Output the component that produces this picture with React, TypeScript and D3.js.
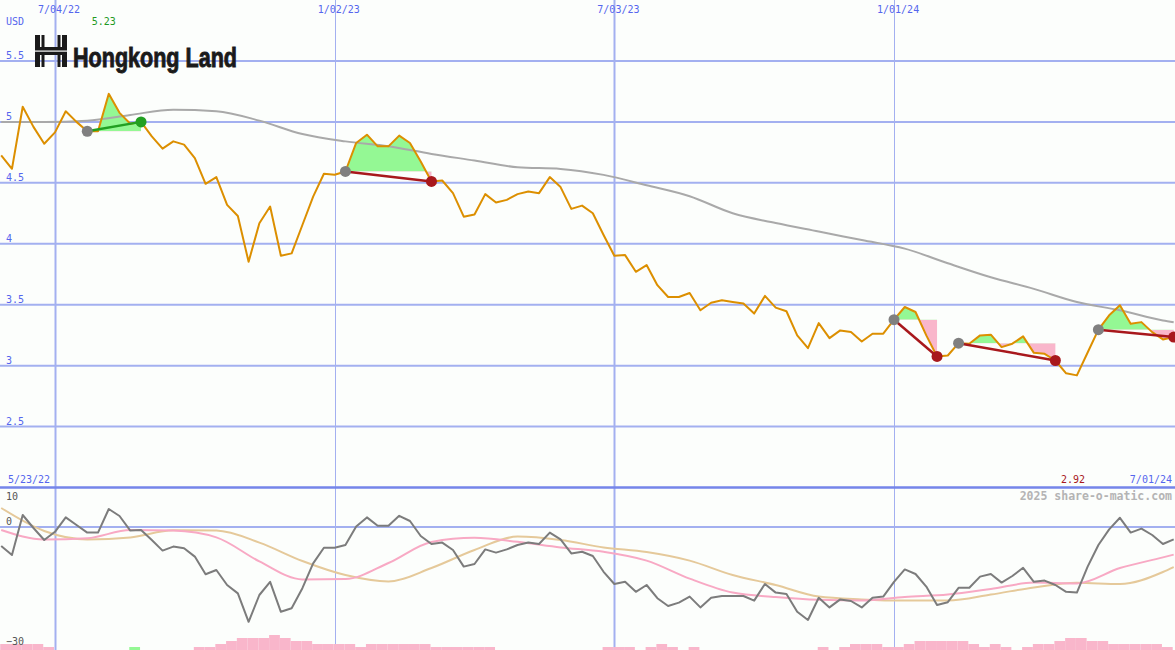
import React from 'react';
import * as d3 from 'd3';

const W = 1175;
const H = 650;

// weekly sessions (Mondays) 5/30/22 .. 7/01/24
const weeks: Date[] = d3.timeMonday.range(new Date(2022, 4, 30), new Date(2024, 6, 2));

// weekly closing price, USD
const closes = [
  4.725, 4.615, 5.124, 4.959, 4.821, 4.914, 5.087, 5.0, 4.923, 4.923,
  5.23, 5.074, 4.984, 5.0, 4.881, 4.78, 4.84, 4.813, 4.703, 4.492,
  4.547, 4.319, 4.228, 3.852, 4.168, 4.305, 3.901, 3.921, 4.154, 4.387,
  4.574, 4.566, 4.593, 4.827, 4.895, 4.799, 4.799, 4.887, 4.827, 4.675,
  4.511, 4.519, 4.415, 4.222, 4.24, 4.407, 4.338, 4.36, 4.407, 4.428,
  4.415, 4.547, 4.465, 4.286, 4.313, 4.25, 4.072, 3.901, 3.907, 3.77,
  3.825, 3.66, 3.563, 3.563, 3.596, 3.454, 3.516, 3.536, 3.522, 3.509,
  3.427, 3.572, 3.476, 3.446, 3.248, 3.143, 3.349, 3.226, 3.289, 3.275,
  3.198, 3.262, 3.262, 3.377, 3.481, 3.44, 3.248, 3.075, 3.083, 3.184,
  3.18, 3.248, 3.254, 3.152, 3.18, 3.24, 3.105, 3.097, 3.042, 2.937,
  2.92, 3.108, 3.295, 3.413, 3.495, 3.344, 3.357, 3.275, 3.215, 3.234,
];

// week indices at which the smooth averages were read
const avgWeekIdx = [0, 4, 8, 12, 16, 20, 24, 28, 32, 36, 40, 44, 48, 52, 56, 60, 64, 68, 72, 76, 80, 84, 88, 92, 96, 100, 104, 108, 109];

// long moving average of price (grey)
const longMA = [
  5.0, 5.0, 5.01, 5.057, 5.1, 5.088, 5.01, 4.9, 4.84, 4.8,
  4.737, 4.683, 4.628, 4.614, 4.565, 4.48, 4.39, 4.25, 4.17, 4.1,
  4.03, 3.96, 3.84, 3.725, 3.63, 3.522, 3.454, 3.37, 3.355,
];

// lower panel: momentum oscillator (grey), weekly
const oscillator = [
  -4.75, -7, 3, -0.25, -3.25, -1.2, 2.4, 0.5, -1.4, -1.4,
  4.5, 2.75, -0.9, -0.75, -3.25, -5.9, -4.9, -5.3, -7.4, -11.8,
  -10.75, -14.5, -16.6, -23.7, -17, -13.7, -21.2, -20.3, -15.3, -9.1,
  -5.2, -5.2, -4.5, 0.1, 2.4, 0.3, 0.3, 2.8, 1.5, -2.25,
  -4.25, -3.9, -5.75, -9.9, -9.25, -5.6, -6.4, -5.6, -4.5, -3.9,
  -4.25, -1.4, -3.1, -6.6, -6.2, -7.25, -11.2, -14.25, -13.7, -16.2,
  -14.5, -17.8, -19.75, -18.9, -17.4, -20.1, -17.7, -17.25, -17.25, -17.25,
  -18.4, -14.25, -16.4, -16.75, -21.2, -23.25, -17.7, -20.1, -18.1, -18.5,
  -20.1, -17.7, -17.4, -13.7, -10.6, -11.75, -14.9, -19.5, -18.8, -15.2,
  -15.2, -12.4, -11.75, -13.9, -12.25, -10.2, -13.7, -13.4, -14.5, -16.2,
  -16.4, -9.9, -4.5, -0.6, 2.3, -1.4, -0.4, -2, -4.25, -3.1,
];

// lower panel: fast average (pink) and slow average (tan), at avgWeekIdx
const oscFast = [
  -0.75, -3.1, -2.8, -0.75, -0.9, -2.6, -8.6, -13.1, -13, -9,
  -3.75, -2.7, -3.7, -5.1, -6.2, -8.4, -12.9, -16.4, -17.5, -18.2,
  -18.4, -17.5, -16.9, -15.5, -13.9, -14.1, -10.25, -7.6, -6.9,
];
const oscSlow = [
  4.75, -1, -3.1, -2.6, -0.8, -0.9, -3.9, -8.5, -12, -13.6,
  -10.25, -5.75, -2.4, -3.25, -5.1, -6.25, -8.4, -12, -14.5, -17.4,
  -18.1, -18.4, -18.4, -16.9, -15.1, -13.95, -14.25, -11.25, -10,
];

// histogram at the foot of the lower panel (negative = pink, positive = green)
const histogram = [
  -2, -2, -2, -2, -1, 0, 0, 0, 0, 0,
  0, 0, 1, 0, 0, 0, 0, 0, -1, -1,
  -2, -3, -4, -4, -4, -5, -4, -3, -3, -2,
  -2, -2, -2, -1, -2, -2, -2, -2, -2, -2,
  -1, -1, -1, -1, -1, -1, 0, 0, 0, 0,
  0, 0, 0, 0, 0, 0, -1, -1, -1, 0,
  -1, -2, -1, 0, -1, 0, 0, 0, 0, 0,
  0, 0, 0, 0, 0, 0, -1, 0, -1, -2,
  -2, -2, -1, -1, -2, -3, -3, -3, -3, -3,
  -2, -1, -2, -1, 0, -1, -2, -2, -3, -4,
  -4, -3, -3, -2, -2, -2, -2, -2, -1, 0,
];

// trend signals: start week -> end week
const signalStarts = [8, 32, 83, 89, 102];
const signalEnds = [13, 40, 87, 98, 109];

const priceTicks = [2.5, 3, 3.5, 4, 4.5, 5, 5.5];
const oscTicks = [10, 0, -30];
const oscTickLabels = ['10', '0', '\u221230'];
const dateTicks = [new Date(2022, 6, 4), new Date(2023, 0, 2), new Date(2023, 6, 3), new Date(2024, 0, 1)];
const dateTickLabels = ['7/04/22', '1/02/23', '7/03/23', '1/01/24'];

const BG = '#fcfefc';
const GRID = '#a3b0f0';
const LABEL = '#5566ee';
const MONO = '"DejaVu Sans Mono", monospace';

export default function App() {
  const x = d3.scaleTime().domain([weeks[0], weeks[weeks.length - 1]]).range([1.2, 1173.7]);
  const y = d3.scaleLinear().domain([2, 6]).range([487.5, 0]);
  const yo = d3.scaleLinear().domain([-30, 10]).range([647, 487]);
  const hb = d3.scaleLinear().domain([0, 5]).range([0, 15]);

  const xi = (i: number) => x(weeks[i]);
  const step = xi(1) - xi(0);

  const priceLine = d3.line<number>().x((_, i) => xi(i)).y((d) => y(d))(closes) || '';
  const maLine = d3.line<number>().x((_, i) => xi(avgWeekIdx[i])).y((d) => y(d)).curve(d3.curveMonotoneX)(longMA) || '';
  const oscLine = d3.line<number>().x((_, i) => xi(i)).y((d) => yo(d))(oscillator) || '';
  const fastLine = d3.line<number>().x((_, i) => xi(avgWeekIdx[i])).y((d) => yo(d)).curve(d3.curveMonotoneX)(oscFast) || '';
  const slowLine = d3.line<number>().x((_, i) => xi(avgWeekIdx[i])).y((d) => yo(d)).curve(d3.curveMonotoneX)(oscSlow) || '';

  const hi = closes.indexOf(d3.max(closes) as number);
  const lo = closes.indexOf(d3.min(closes) as number);

  return (
    <svg width={W} height={H} style={{ position: 'absolute', left: 0, top: 0, display: 'block' }} xmlns="http://www.w3.org/2000/svg">
      <rect x={0} y={0} width={W} height={H} fill={BG} />
      <defs>
        {signalStarts.map((s, j) => {
          const by = y(closes[s]);
          return (
            <React.Fragment key={j}>
              <clipPath id={`up${j}`}><rect x={0} y={0} width={W} height={by} /></clipPath>
              <clipPath id={`dn${j}`}><rect x={0} y={by} width={W} height={H - by} /></clipPath>
            </React.Fragment>
          );
        })}
      </defs>

      {/* horizontal grid, price panel */}
      {priceTicks.map((t) => (
        <line key={t} x1={0} x2={W} y1={y(t)} y2={y(t)} stroke={GRID} strokeWidth={2} />
      ))}
      {/* zero line, oscillator panel */}
      <line x1={0} x2={W} y1={yo(0)} y2={yo(0)} stroke={GRID} strokeWidth={2} />

      {/* vertical date grid */}
      {dateTicks.map((d, i) => (
        <line key={i} x1={Math.round(x(d)) + 0.5} x2={Math.round(x(d)) + 0.5} y1={0} y2={H}
          stroke={GRID} strokeWidth={d.getMonth() === 6 ? 2 : 1} />
      ))}

      {/* panel divider */}
      <line x1={0} x2={W} y1={y(2)} y2={y(2)} stroke="#7585ea" strokeWidth={2.5} />

      {/* signal fills */}
      {signalStarts.map((s, j) => {
        const e = signalEnds[j];
        const idx = d3.range(s, e + 1);
        const by = y(closes[s]);
        const area = d3.area<number>().x((i) => xi(i)).y0(by).y1((i) => y(closes[i]))(idx) || '';
        return (
          <g key={j}>
            <path d={area} fill="#94f894" clipPath={`url(#up${j})`} />
            <path d={area} fill="#f9b6cb" clipPath={`url(#dn${j})`} />
          </g>
        );
      })}

      {/* long moving average */}
      <path d={maLine} fill="none" stroke="#a9a9a9" strokeWidth={2} />
      {/* price */}
      <path d={priceLine} fill="none" stroke="#dc8f00" strokeWidth={2} strokeLinejoin="round" />

      {/* signal connectors and dots */}
      {signalStarts.map((s, j) => {
        const e = signalEnds[j];
        const up = closes[e] > closes[s];
        const c = up ? '#22a022' : '#a8181c';
        return (
          <g key={j}>
            <line x1={xi(s)} y1={y(closes[s])} x2={xi(e)} y2={y(closes[e])} stroke={c} strokeWidth={2.5} />
            <circle cx={xi(s)} cy={y(closes[s])} r={5.5} fill="#808080" />
            <circle cx={xi(e)} cy={y(closes[e])} r={5.5} fill={c} />
          </g>
        );
      })}

      {/* oscillator panel */}
      {histogram.map((v, i) => (v === 0 ? null : (
        <rect key={i} x={xi(i) - 1} y={H - hb(Math.abs(v))} width={step} height={hb(Math.abs(v))}
          fill={v > 0 ? '#94f894' : '#f9b6cb'} />
      )))}
      <path d={slowLine} fill="none" stroke="#e5c99a" strokeWidth={2} />
      <path d={fastLine} fill="none" stroke="#f8a9c4" strokeWidth={2} />
      <path d={oscLine} fill="none" stroke="#7c7c7c" strokeWidth={2} strokeLinejoin="round" />

      {/* labels */}
      <g fontFamily={MONO} fontSize={10}>
        <text x={6} y={25} fill={LABEL}>USD</text>
        {priceTicks.map((t) => (
          <text key={t} x={6} y={y(t) - 2} fill={LABEL}>{String(t)}</text>
        ))}
        {oscTicks.map((t, i) => (
          <text key={t} x={6} y={t === 10 ? yo(t) + 12.5 : yo(t) - 2} fill="#555">{oscTickLabels[i]}</text>
        ))}
        {dateTicks.map((d, i) => (
          <text key={i} x={x(d) - 17} y={13} fill={LABEL}>{dateTickLabels[i]}</text>
        ))}
        <text x={8} y={483} fill={LABEL}>5/23/22</text>
        <text x={1172} y={483} fill={LABEL} textAnchor="end">7/01/24</text>
        <text x={xi(hi) - 17} y={25} fill="#1f9a1f">{closes[hi].toFixed(2)}</text>
        <text x={xi(lo) - 16} y={483} fill="#a8181c">{closes[lo].toFixed(2)}</text>
        <text x={1172} y={500} fill="#b4b4b4" fontWeight="bold" fontSize={11.5} textAnchor="end">2025 share-o-matic.com</text>
      </g>

      {/* logo */}
      <g fill="#1a1a1a">
        <rect x={35} y={35} width={5} height={32} />
        <rect x={41.5} y={35} width={3} height={12} />
        <rect x={41.5} y={55} width={3} height={12} />
        <rect x={57.5} y={35} width={3} height={12} />
        <rect x={57.5} y={55} width={3} height={12} />
        <rect x={62} y={35} width={5} height={32} />
        <rect x={35} y={47} width={32} height={8} />
        <rect x={35} y={50.5} width={32} height={1.2} fill={BG} />
        <text x={73} y={67} fontFamily='"Liberation Sans", Arial, sans-serif' fontWeight="bold" fontSize={27}
          stroke="#1a1a1a" strokeWidth={0.9} textLength={164} lengthAdjust="spacingAndGlyphs">Hongkong Land</text>
      </g>
    </svg>
  );
}
